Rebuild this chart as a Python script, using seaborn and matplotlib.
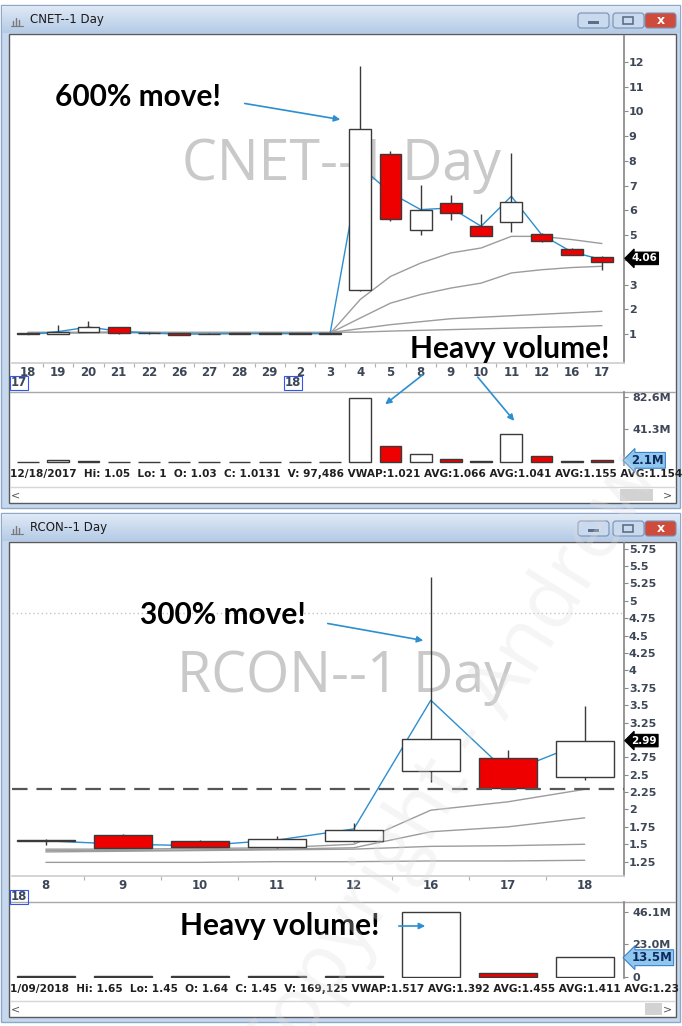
import matplotlib
matplotlib.use("Agg")
import matplotlib.pyplot as plt
import matplotlib.transforms as mtransforms
from matplotlib.colors import LinearSegmentedColormap
from matplotlib.patches import Rectangle, FancyBboxPatch
import numpy as np
import seaborn as sns

# ---- CNET daily bars, Dec 2017 - Jan 2018 ----
cnet_days = ['18', '19', '20', '21', '22', '26', '27', '28', '29', '2',
             '3', '4', '5', '8', '9', '10', '11', '12', '16', '17']
cnet_open = [1.03, 1.00, 1.10, 1.27, 1.05, 1.03, 1.02, 1.00, 1.03, 1.03,
             1.01, 2.80, 8.26, 5.20, 6.30, 5.36, 5.55, 5.06, 4.45, 4.13]
cnet_high = [1.05, 1.35, 1.53, 1.28, 1.07, 1.04, 1.03, 1.05, 1.04, 1.04,
             1.03, 11.85, 8.42, 7.02, 6.61, 5.87, 8.33, 5.10, 4.47, 4.14]
cnet_low = [1.00, 0.99, 1.08, 1.02, 1.00, 0.96, 0.99, 0.99, 1.00, 1.00,
            1.00, 2.75, 5.56, 5.02, 5.63, 4.96, 5.12, 4.72, 4.18, 3.60]
cnet_close = [1.0131, 1.08, 1.30, 1.04, 1.03, 0.97, 1.00, 1.04, 1.01, 1.01,
              1.03, 9.30, 5.66, 6.03, 5.90, 4.98, 6.34, 4.75, 4.21, 3.93]
cnet_vwap = [0.98, 1.10, 1.28, 1.12, 1.04, 1.00, 1.00, 1.02, 1.02, 1.02,
             1.02, 7.78, 6.71, 6.03, 6.10, 5.36, 6.57, 5.02, 4.32, 4.01]
cnet_ma1 = [1.02, 1.03, 1.06, 1.07, 1.06, 1.04, 1.03, 1.02, 1.02, 1.02,
            1.02, 2.40, 3.33, 3.87, 4.28, 4.48, 4.95, 4.95, 4.82, 4.66]
cnet_ma2 = [1.05, 1.05, 1.06, 1.06, 1.06, 1.05, 1.05, 1.04, 1.04, 1.04,
            1.04, 1.65, 2.25, 2.60, 2.86, 3.06, 3.47, 3.60, 3.69, 3.74]
cnet_ma3 = [1.06, 1.06, 1.06, 1.06, 1.06, 1.06, 1.06, 1.06, 1.06, 1.06,
            1.06, 1.22, 1.38, 1.50, 1.62, 1.68, 1.74, 1.80, 1.86, 1.92]
cnet_ma4 = [1.07, 1.07, 1.07, 1.07, 1.07, 1.07, 1.07, 1.07, 1.07, 1.07,
            1.07, 1.08, 1.12, 1.15, 1.18, 1.21, 1.24, 1.27, 1.30, 1.34]
cnet_volume = [0.1, 2.5, 1.2, 0.6, 0.3, 0.3, 0.3, 0.3, 0.3, 0.3,
               0.4, 81.0, 19.9, 9.7, 4.2, 1.5, 36.0, 7.6, 1.3, 2.1]   # millions
cnet_last = 4.06
cnet_last_vol = 2.1
cnet_info = ("12/18/2017  Hi: 1.05  Lo: 1  O: 1.03  C: 1.0131  V: 97,486 VWAP:1.021 "
             "AVG:1.066 AVG:1.041 AVG:1.155 AVG:1.154")

# ---- RCON daily bars, Jan 2018 ----
rcon_days = ['8', '9', '10', '11', '12', '16', '17', '18']
rcon_open = [1.55, 1.64, 1.54, 1.46, 1.54, 2.56, 2.74, 2.46]
rcon_high = [1.57, 1.65, 1.56, 1.62, 1.80, 5.34, 2.85, 3.49]
rcon_low = [1.49, 1.45, 1.46, 1.45, 1.53, 2.39, 2.30, 2.43]
rcon_close = [1.56, 1.45, 1.46, 1.57, 1.70, 3.02, 2.31, 2.98]
rcon_vwap = [1.55, 1.50, 1.48, 1.56, 1.72, 3.57, 2.53, 2.97]
rcon_ma1 = [1.43, 1.43, 1.44, 1.45, 1.50, 1.99, 2.11, 2.29]
rcon_ma2 = [1.41, 1.41, 1.42, 1.43, 1.45, 1.68, 1.75, 1.88]
rcon_ma3 = [1.39, 1.40, 1.41, 1.42, 1.43, 1.47, 1.48, 1.50]
rcon_ma4 = [1.24, 1.24, 1.24, 1.25, 1.25, 1.26, 1.26, 1.27]
rcon_volume = [0.3, 0.3, 0.3, 0.3, 0.8, 46.0, 2.4, 13.7]   # millions
rcon_last = 2.99
rcon_last_vol = 13.5
rcon_support = 2.30
rcon_dotted = 4.82
rcon_info = ("1/09/2018  Hi: 1.65  Lo: 1.45  O: 1.64  C: 1.45  V: 169,125 VWAP:1.517 "
             "AVG:1.392 AVG:1.455 AVG:1.411 AVG:1.23")

sns.set_theme(style="white")
plt.rcParams['font.family'] = ['Liberation Sans Narrow', 'DejaVu Sans']

W, H = 682, 1026
fig = plt.figure(figsize=(W / 100, H / 100), dpi=100)


def px_axes(x0, y0, x1, y1):
    return fig.add_axes([x0 / W, 1 - y1 / H, (x1 - x0) / W, (y1 - y0) / H])


def pixel_canvas():
    a = px_axes(0, 0, W, H)
    a.set_xlim(0, W)
    a.set_ylim(H, 0)
    a.axis('off')
    a.set_facecolor('none')
    return a


bg = pixel_canvas()

TICK = '#3d4757'
BLUE = '#2b8fd0'
EDGE = '#3a3a3a'
MA_GRAY = '#9c9c9c'
title_cmap = LinearSegmentedColormap.from_list('tb', ['#dfe9f6', '#b5cbe6'])


def window(y0, y1, title):
    bg.add_patch(Rectangle((1, y0), 679, y1 - y0, fc='#c6d8ee', ec='#8fa8c8', lw=1))
    grad = np.linspace(0, 1, 40).reshape(-1, 1)
    bg.imshow(grad, cmap=title_cmap, extent=(2, 680, y0 + 28, y0 + 1),
              aspect='auto', origin='upper', zorder=1)
    # white chart area
    bg.add_patch(Rectangle((9, y0 + 29), 667, y1 - y0 - 34, fc='white', ec='#5a5a5a',
                           lw=1, zorder=2))
    # icon + title
    for i, hh in enumerate([5, 8, 6]):
        bg.plot([13 + i * 3, 13 + i * 3], [y0 + 21, y0 + 21 - hh], color='#7a7a7a', lw=1, zorder=3)
    bg.plot([11, 23], [y0 + 21, y0 + 21], color='#7a7a7a', lw=0.8, zorder=3)
    bg.text(30, y0 + 15, title, fontsize=8.5, color='#1a1a1a', va='center', ha='left', zorder=3)
    # buttons
    for bx, fc in [(578, '#c9d9ee'), (613, '#c9d9ee'), (645, '#cf4b3b')]:
        bg.add_patch(FancyBboxPatch((bx, y0 + 8), 31, 15,
                                    boxstyle='round,pad=0,rounding_size=3',
                                    fc=fc, ec='#7890b0', lw=0.8, zorder=3))
    bg.add_patch(Rectangle((588, y0 + 16), 11, 3, fc='#5c6f8a', ec='none', zorder=4))
    bg.add_patch(Rectangle((623, y0 + 12), 10, 7, fc='none', ec='#5c6f8a', lw=1.2, zorder=4))
    bg.text(661, y0 + 15.5, 'x', fontsize=9, fontweight='bold', color='white',
            ha='center', va='center', zorder=4, family='DejaVu Sans')


window(5, 508, 'CNET--1 Day')
window(513, 1022, 'RCON--1 Day')


def style_price(ax, xlim, ylim, yticks, ylabels, days):
    ax.set_facecolor('none')
    ax.set_xlim(*xlim)
    ax.set_ylim(*ylim)
    ax.yaxis.tick_right()
    ax.set_yticks(yticks)
    ax.set_yticklabels(ylabels)
    ax.set_xticks(range(len(days)))
    ax.set_xticklabels(days)
    ax.set_xticks(np.arange(len(days) - 1) + 0.5, minor=True)
    ax.tick_params(axis='y', which='major', length=3, width=0.8, color='#8a8a8a', pad=0.5,
                   labelsize=8, labelcolor=TICK, right=True, left=False)
    ax.tick_params(axis='x', which='major', length=0, pad=2, labelsize=8.5, labelcolor=TICK)
    ax.tick_params(axis='x', which='minor', length=3, width=0.8, color='#b0b0b0', bottom=True)
    for lab in ax.get_xticklabels() + ax.get_yticklabels():
        lab.set_fontweight('bold')
    for side in ['top', 'left']:
        ax.spines[side].set_visible(False)
    ax.spines['right'].set_color('#8a8a8a')
    ax.spines['bottom'].set_color('#cfcfcf')
    ax.set_xlabel('')
    ax.set_ylabel('')


def candles(ax, o, h, l, c, width):
    x = np.arange(len(o))
    o, h, l, c = map(np.asarray, (o, h, l, c))
    up = c >= o
    colors = np.where(up, 'white', '#ee0000')
    ax.vlines(x, l, h, color=EDGE, lw=1, zorder=4)
    ax.bar(x, np.abs(c - o), bottom=np.minimum(o, c), width=width, color=colors,
           edgecolor=EDGE, lw=1, zorder=5)
    return colors


def volume(ax, vols, colors, width, xlim, ylim, yticks, ylabels):
    x = np.arange(len(vols))
    ax.bar(x, vols, width=width, color=colors, edgecolor=EDGE, lw=1, zorder=3)
    ax.set_facecolor('none')
    ax.set_xlim(*xlim)
    ax.set_ylim(*ylim)
    ax.set_xticks([])
    ax.yaxis.tick_right()
    ax.set_yticks(yticks)
    ax.set_yticklabels(ylabels)
    ax.tick_params(axis='y', length=3, width=0.8, color='#8a8a8a', pad=3,
                   labelsize=8, labelcolor=TICK, right=True, left=False)
    for lab in ax.get_yticklabels():
        lab.set_fontweight('bold')
    for side in ['top', 'left', 'bottom']:
        ax.spines[side].set_visible(False)
    ax.spines['right'].set_color('#8a8a8a')


def last_tag(ax, y, text, fc, ec, tc, size=7.5):
    tr = mtransforms.blended_transform_factory(ax.transAxes, ax.transData)
    ax.text(1.012, y, text, transform=tr, fontsize=size, fontweight='bold', color=tc,
            ha='left', va='center', clip_on=False, zorder=10,
            bbox=dict(boxstyle='larrow,pad=0.12', fc=fc, ec=ec, lw=0.8))


def ma_lines(ax, series):
    x = np.arange(len(series[0]))
    for s in series:
        sns.lineplot(x=x, y=s, ax=ax, color=MA_GRAY, lw=1, zorder=2)


# ================= CNET =================
# watermark text behind
bg.text(341, 165, 'CNET--1 Day', fontsize=40, color='#c9c9c9', ha='center', va='center',
        family='Open Sans', zorder=3)

ax1 = px_axes(12, 36, 624, 363)
ma_lines(ax1, [cnet_ma1, cnet_ma2, cnet_ma3, cnet_ma4])
sns.lineplot(x=np.arange(len(cnet_vwap)), y=cnet_vwap, ax=ax1, color=BLUE, lw=1, zorder=3)
c1 = candles(ax1, cnet_open, cnet_high, cnet_low, cnet_close, 0.72)
style_price(ax1, (-0.53, 19.73), (-0.17, 13.05), list(range(1, 13)),
            [str(v) for v in range(1, 13)], cnet_days)
last_tag(ax1, cnet_last, f'{cnet_last:.2f}', 'black', 'black', 'white')

bg.plot([10, 675], [392, 392], color='#a8a8a8', lw=1, zorder=3)
av1 = px_axes(12, 392, 624, 465)
volume(av1, cnet_volume, c1, 0.72, (-0.53, 19.73), (-3.8, 88.5), [41.3, 82.6],
       ['41.3M', '82.6M'])
last_tag(av1, cnet_last_vol, f'{cnet_last_vol}M', '#8fc8ec', '#3a80d0', '#102a60', 8.5)

for x, t in [(19, '17'), (293, '18')]:
    bg.text(x, 383, t, fontsize=8.5, fontweight='bold', color=TICK, ha='center', va='center',
            zorder=6, bbox=dict(boxstyle='square,pad=0.05', fc='none', ec='#3355ee', lw=0.8))

bg.text(10, 474, cnet_info, fontsize=7.6, fontweight='bold', color='#202020',
        ha='left', va='center', zorder=6)
bg.plot([10, 675], [487, 487], color='#d6d6d6', lw=1, zorder=6)
bg.add_patch(Rectangle((620, 489), 33, 12, fc='#d2d2d2', ec='none', zorder=6))
bg.text(15, 495, '<', fontsize=8, color='#555555', ha='center', va='center', zorder=6)
bg.text(668, 495, '>', fontsize=8, color='#555555', ha='center', va='center', zorder=6)

# ================= RCON =================
bg.text(344, 678, 'RCON--1 Day', fontsize=40, color='#c9c9c9', ha='center', va='center',
        family='Open Sans', zorder=3)

ax2 = px_axes(12, 543, 624, 876)
ax2.axhline(rcon_dotted, color='#c4c4c4', lw=1, ls=(0, (1, 2)), zorder=1)
ma_lines(ax2, [rcon_ma1, rcon_ma2, rcon_ma3, rcon_ma4])
sns.lineplot(x=np.arange(len(rcon_vwap)), y=rcon_vwap, ax=ax2, color=BLUE, lw=1, zorder=3)
c2 = candles(ax2, rcon_open, rcon_high, rcon_low, rcon_close, 0.75)
ax2.axhline(rcon_support, color='#555555', lw=1.6, ls=(0, (7, 4)), zorder=6)
rt = [1.25 + 0.25 * i for i in range(19)]
style_price(ax2, (-0.44, 7.51), (1.044, 5.83), rt,
            [f'{v:g}' for v in rt], rcon_days)
last_tag(ax2, rcon_last, f'{rcon_last:.2f}', 'black', 'black', 'white')

bg.plot([10, 675], [902, 902], color='#a8a8a8', lw=1, zorder=3)
av2 = px_axes(12, 902, 624, 978)
volume(av2, rcon_volume, c2, 0.75, (-0.44, 7.51), (-0.9, 53.0), [0, 23.0, 46.1],
       ['0', '23.0M', '46.1M'])
last_tag(av2, rcon_last_vol, f'{rcon_last_vol}M', '#8fc8ec', '#3a80d0', '#102a60', 8.5)

bg.text(19, 897, '18', fontsize=8.5, fontweight='bold', color=TICK, ha='center', va='center',
        zorder=6, bbox=dict(boxstyle='square,pad=0.05', fc='none', ec='#3355ee', lw=0.8))

bg.text(10, 989, rcon_info, fontsize=7.6, fontweight='bold', color='#202020',
        ha='left', va='center', zorder=6)
bg.plot([10, 675], [1001, 1001], color='#d6d6d6', lw=1, zorder=6)
bg.add_patch(Rectangle((645, 1003), 17, 12, fc='#d2d2d2', ec='none', zorder=6))
bg.text(15, 1009, '<', fontsize=8, color='#555555', ha='center', va='center', zorder=6)
bg.text(668, 1009, '>', fontsize=8, color='#555555', ha='center', va='center', zorder=6)

# ================= callouts on top of everything =================
top = pixel_canvas()
ann_font = dict(fontsize=21.5, fontweight='bold', color='black', family='Lato', zorder=8)
arrow = dict(arrowstyle='-|>', color=BLUE, lw=1.2, mutation_scale=9)
top.text(55, 97, '600% move!', ha='left', va='center', **ann_font)
top.text(410, 349, 'Heavy volume!', ha='left', va='center', **ann_font)
top.annotate('', xy=(343, 120), xytext=(242, 103), arrowprops=arrow, zorder=8)
top.annotate('', xy=(383, 406), xytext=(425, 373), arrowprops=arrow, zorder=8)
top.annotate('', xy=(516, 423), xytext=(476, 375), arrowprops=arrow, zorder=8)

top.text(140, 615, '300% move!', ha='left', va='center', **ann_font)
top.text(180, 926, 'Heavy volume!', ha='left', va='center', **ann_font)
top.annotate('', xy=(426, 641), xytext=(325, 623), arrowprops=arrow, zorder=8)
top.annotate('', xy=(428, 926), xytext=(396, 926), arrowprops=arrow, zorder=8)

# faint diagonal copyright watermark
top.text(450, 770, 'Copyright - Andrew', fontsize=58, color='#e0e0e0', alpha=0.3,
         rotation=58, ha='center', va='center', family='Open Sans', zorder=20, clip_on=True)

fig.savefig('out.png', dpi=100)
